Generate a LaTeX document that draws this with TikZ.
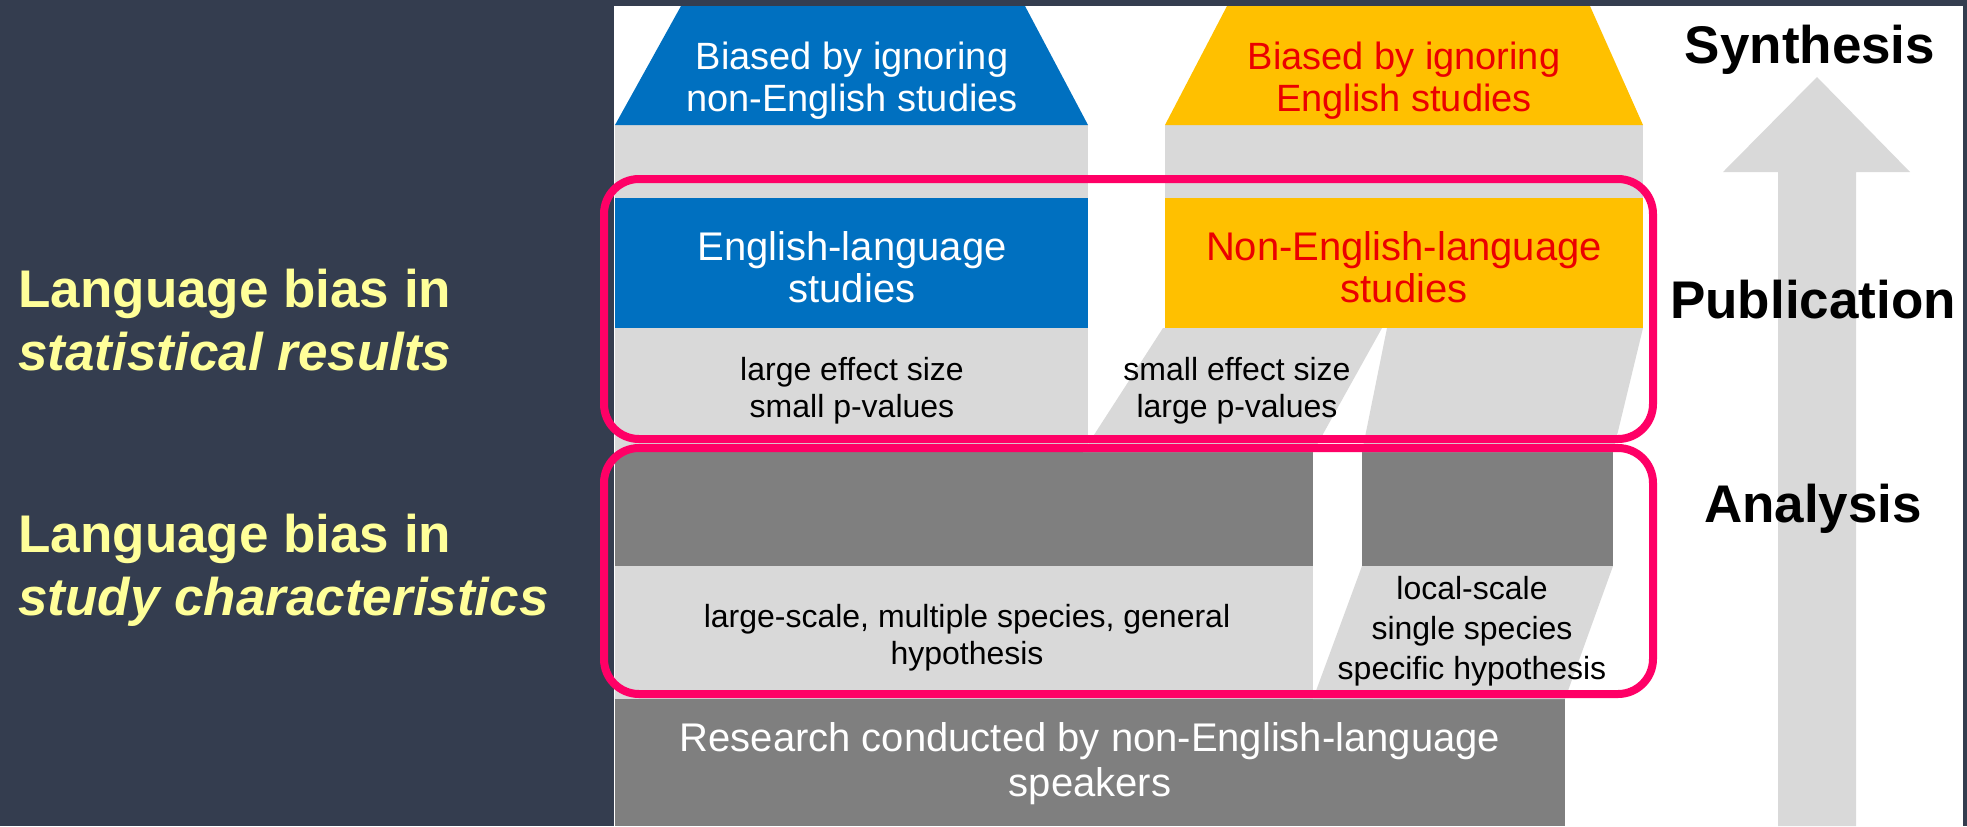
\documentclass[tikz,border=0pt]{standalone}
\usepackage{fontspec}
\setmainfont{Liberation Sans}
\definecolor{slate}{RGB}{52,61,79}
\definecolor{engblue}{RGB}{0,112,192}
\definecolor{nonyellow}{RGB}{255,192,0}
\definecolor{redtext}{RGB}{235,0,0}
\definecolor{lightgrey}{RGB}{217,217,217}
\definecolor{darkgrey}{RGB}{127,127,127}
\definecolor{hotpink}{RGB}{255,0,102}
\definecolor{paleyellow}{RGB}{255,255,153}
\begin{document}
\begin{tikzpicture}[x=0.5pt,y=-0.5pt,
  txt/.style={inner sep=0pt,align=center},
  toptxt/.style={txt,font=\fontsize{19}{21}\selectfont},
  midtxt/.style={txt,font=\fontsize{20}{21}\selectfont},
  smalltxt/.style={txt,font=\fontsize{16}{18.5}\selectfont,text=black},
  stagetxt/.style={inner sep=0pt,anchor=base,font=\fontsize{26.5}{30}\selectfont\bfseries,text=black},
  sidetxt/.style={inner sep=0pt,anchor=west,align=left,font=\fontsize{26.5}{31.5}\selectfont\bfseries,text=paleyellow},
  framebox/.style={draw=hotpink,line width=4pt,rounded corners=17.5pt}]
\useasboundingbox (0,0) rectangle (1967,826);
% page background and white panel
\fill[slate] (0,0) rectangle (1967,826);
\fill[white] (614,6) rectangle (1963,826);

% upward arrow on the right
\fill[lightgrey] (1778,826) -- (1778,172) -- (1723,172) -- (1817,77)
  -- (1910,172) -- (1856,172) -- (1856,826) -- cycle;

% research base
\fill[darkgrey] (615,699) rectangle (1565,826);

% analysis layer
\fill[lightgrey] (615,566) rectangle (1313,699);
\fill[lightgrey] (1362,566) -- (1613,566) -- (1565,699) -- (1313,699) -- cycle;
\fill[darkgrey] (615,452) rectangle (1313,566);
\fill[darkgrey] (1362,452) rectangle (1613,566);

% publication layer
\fill[lightgrey] (615,125) rectangle (1088,452);
\fill[lightgrey] (1165,125) rectangle (1643,328);
\fill[lightgrey] (1163,328) -- (1382,328) -- (1313,452) -- (1083,452) -- cycle;
\fill[lightgrey] (1387,328) -- (1643,328) -- (1613,452) -- (1362,452) -- cycle;
\fill[engblue] (615,198) rectangle (1088,328);
\fill[nonyellow] (1165,198) rectangle (1643,328);

% synthesis layer
\fill[engblue] (681,6) -- (1025,6) -- (1088,125) -- (615,125) -- cycle;
\fill[nonyellow] (1227,6) -- (1590,6) -- (1643,125) -- (1165,125) -- cycle;

% texts inside the diagram
\node[toptxt,text=white] (biasEng) at (852,81) {Biased by ignoring\\non-English studies};
\node[toptxt,text=redtext] (biasNon) at (1404,81) {Biased by ignoring\\English studies};
\node[midtxt,text=white] (engStud) at (852,267) {English-language\\studies};
\node[midtxt,text=redtext] (nonStud) at (1404,267) {Non-English-language\\studies};
\node[smalltxt] (engRes) at (852,391) {large effect size\\small p-values};
\node[smalltxt] (nonRes) at (1237,391) {small effect size\\large p-values};
\node[smalltxt] (wideChar) at (967,638) {large-scale, multiple species, general\\hypothesis};
\node[smalltxt,font=\fontsize{16}{20}\selectfont] (localChar) at (1472,631) {local-scale\\single species\\specific hypothesis};
\node[midtxt,text=white,font=\fontsize{20}{22.5}\selectfont] (research) at (1090,764)
  {Research conducted by non-English-language\\speakers};

% highlight frames
\draw[framebox] (604,179) rectangle (1653,439);
\draw[framebox] (604,448) rectangle (1653,694);

% stage labels
\node[stagetxt] (synth) at (1810,63) {Synthesis};
\node[stagetxt] (publ) at (1813,318) {Publication};
\node[stagetxt] (anal) at (1813,522) {Analysis};

% side labels
\node[sidetxt] (sideStat) at (18,320) {Language bias in\\\itshape statistical results};
\node[sidetxt] (sideChar) at (18,570) {Language bias in\\\itshape study characteristics};
\end{tikzpicture}
\end{document}
